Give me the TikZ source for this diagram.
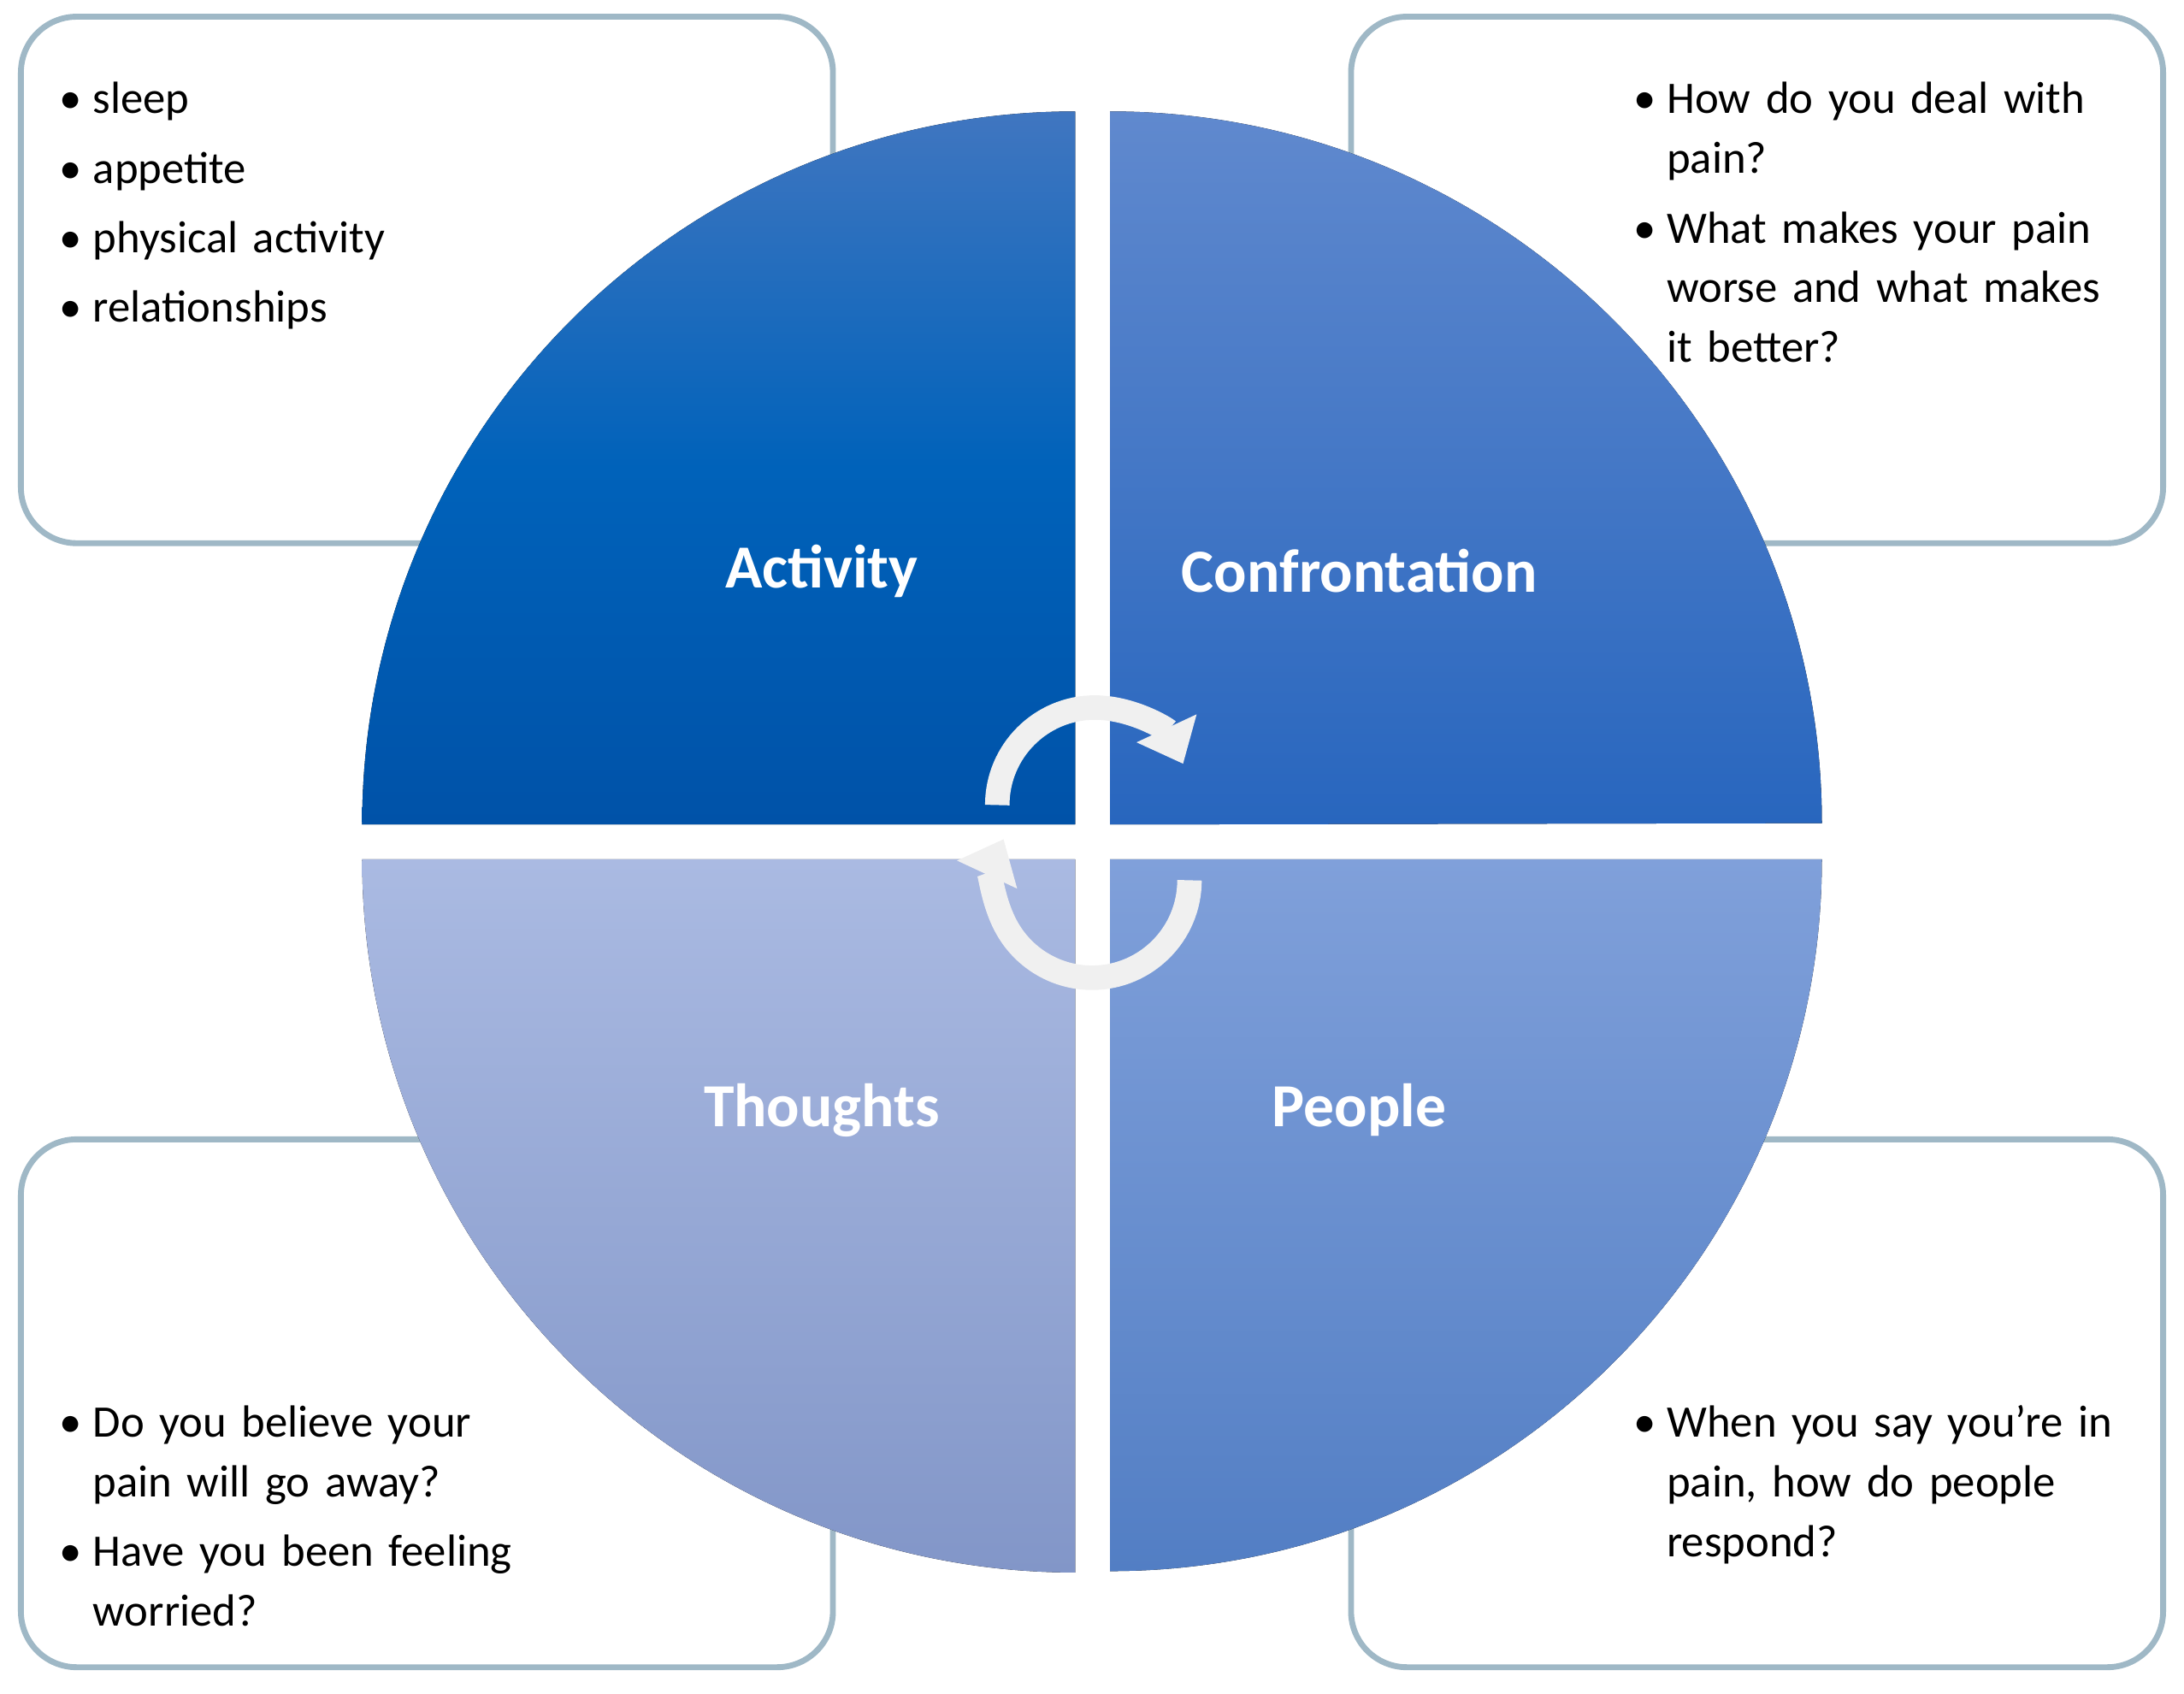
\documentclass[tikz,border=0pt]{standalone}
\usepackage{fontspec}
\setmainfont{Carlito}
\usetikzlibrary{arrows.meta,calc}
\begin{document}
\begin{tikzpicture}[x=0.01cm,y=-0.01cm,
  box/.style={draw=blue!35!cyan!25!gray!60, line width=1.2pt, rounded corners=0.4cm},
  lab/.style={text=white, font=\fontsize{12.5}{15}\selectfont\bfseries},
  txt/.style={anchor=north west, text width=#1, align=left, font=\fontsize{9.2}{12.2}\selectfont, inner sep=0pt},
  cyc/.style={line width=5pt, draw=gray!12, -{Triangle[length=8pt,width=13pt]}}]
\useasboundingbox (0,0) rectangle (1568,1216);
\newcommand{\blist}[1]{\begin{list}{\textbullet}{\leftmargin=0.24cm\labelsep=0.08cm\labelwidth=0.16cm\itemsep=0.07cm\topsep=0pt\parsep=0pt\partopsep=0pt}#1\end{list}}
\draw[box] (15,12) rectangle (598,390);
\draw[box] (970,12) rectangle (1553,390);
\draw[box] (15,818) rectangle (598,1197);
\draw[box] (970,818) rectangle (1553,1197);
\fill[top color={rgb,255:red,64;green,118;blue,192}, bottom color={rgb,255:red,0;green,82;blue,168}, middle color={rgb,255:red,0;green,98;blue,186}]
  (772,592) -- (260,592) arc[start angle=180,end angle=270,radius=512] -- cycle;
\fill[top color={rgb,255:red,96;green,137;blue,206}, bottom color={rgb,255:red,40;green,102;blue,190}]
  (797,592) -- (797,80) arc[start angle=270,end angle=360,radius=511] -- cycle;
\fill[top color={rgb,255:red,170;green,186;blue,226}, bottom color={rgb,255:red,130;green,150;blue,200}]
  (772,617) -- (260,617) arc[start angle=180,end angle=90,radius=512] -- cycle;
\fill[top color={rgb,255:red,128;green,160;blue,218}, bottom color={rgb,255:red,82;green,126;blue,196}]
  (797,617) -- (1308,617) arc[start angle=0,end angle=90,radius=511] -- cycle;
\node[lab] (act) at (590,410) {Activity};
\node[lab] (con) at (976,410) {Confrontation};
\node[lab] (tho) at (590,797) {Thoughts};
\node[lab] (peo) at (976,797) {People};
\coordinate (c1) at (786,578);
\coordinate (c2) at (784,632);
\draw[cyc] ($(c1)+(-70,0)$) arc[start angle=180,end angle=335,radius=70];
\draw[cyc] ($(c2)+(70,0)$) arc[start angle=0,end angle=205,radius=70];
\node[txt=5.3cm] (t1) at (42,38) {\blist{\item sleep \item appetite \item physical activity \item relationships}};
\node[txt=3.6cm] (t2) at (1172,38) {\blist{\item How do you deal with pain? \item What makes your pain worse and what makes it better?}};
\node[txt=3.6cm] (t3) at (42,988) {\blist{\item Do you believe your pain will go away? \item Have you been feeling worried?}};
\node[txt=3.6cm] (t4) at (1172,988) {\blist{\item When you say you're in pain, how do people respond?}};
\end{tikzpicture}
\end{document}
